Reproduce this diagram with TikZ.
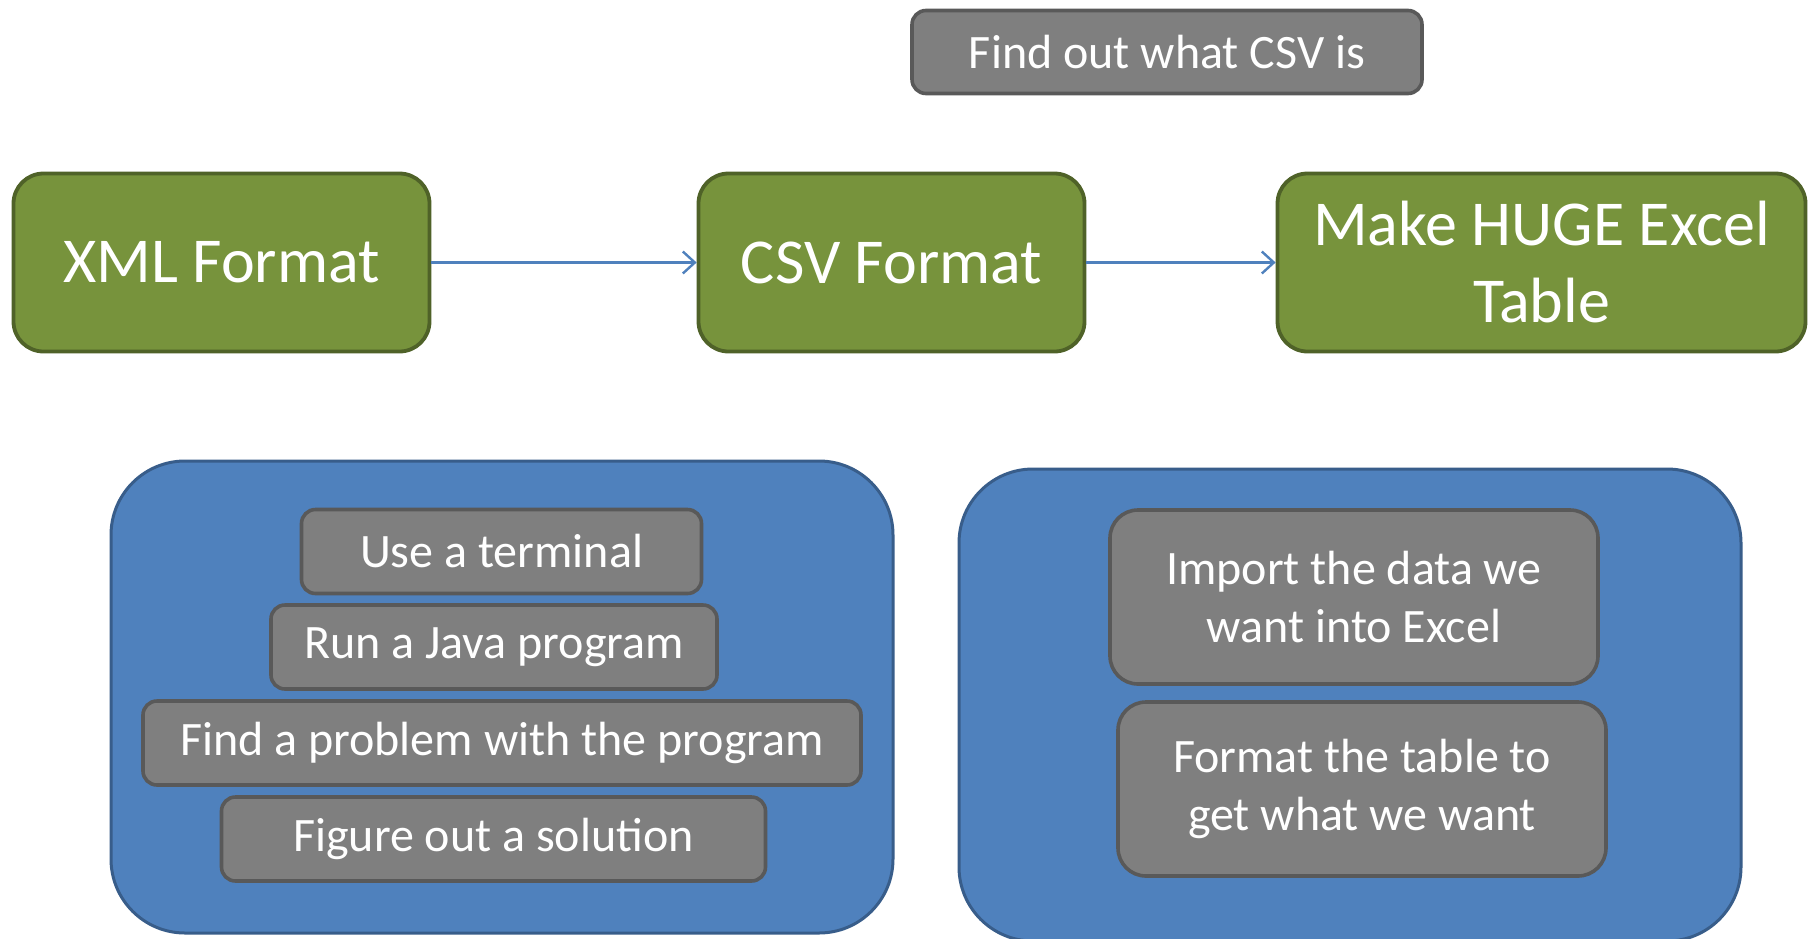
\documentclass[tikz,border=0pt]{standalone}
\usepackage{fontspec}
\setmainfont{Carlito}
\usetikzlibrary{arrows.meta}
\definecolor{gfill}{HTML}{77933C}
\definecolor{gline}{HTML}{4F6228}
\definecolor{bfill}{HTML}{4F81BD}
\definecolor{bline}{HTML}{385D8A}
\definecolor{kfill}{HTML}{7F7F7F}
\definecolor{kline}{HTML}{595959}
\tikzset{
  greenbox/.style={draw=gline, fill=gfill, line width=1.9pt, rounded corners=15pt,
    text=white, align=center, inner sep=0pt, font=\fontsize{32pt}{38.5pt}\selectfont},
  bluebox/.style={draw=bline, fill=bfill, line width=1.5pt, rounded corners=37pt, inner sep=0pt},
  graybox/.style={draw=kline, fill=kfill, line width=1.8pt, rounded corners=7pt,
    text=white, align=center, inner sep=0pt, font=\fontsize{24pt}{29pt}\selectfont},
  tallgray/.style={graybox, rounded corners=14pt},
  arr/.style={draw=bfill, line width=1.2pt, -{Straight Barb[length=6pt,width=11pt]}}
}
\begin{document}
\begin{tikzpicture}[x=0.5pt,y=-0.5pt]
\clip (0,0) rectangle (1810,938);
\fill[white] (0,0) rectangle (1810,938);
% top gray
\node[graybox, minimum width=255pt, minimum height=41.5pt] (find) at (1167,52) {Find out what CSV is};
% green row
\node[greenbox, minimum width=208pt, minimum height=89pt] (xml) at (221.5,262.5) {XML Format};
\node[greenbox, minimum width=193pt, minimum height=89pt] (csv) at (891.5,262.5) {CSV Format};
\node[greenbox, minimum width=264pt, minimum height=89pt] (huge) at (1541.5,262.5) {Make HUGE Excel\\Table};
\draw[arr] (xml.east) -- (csv.west);
\draw[arr] (csv.east) -- (huge.west);
% blue containers
\node[bluebox, minimum width=391pt, minimum height=236pt] (left) at (502,697) {};
\node[bluebox, minimum width=391pt, minimum height=236pt] (right) at (1350,705) {};
% left items
\node[graybox, minimum width=200pt, minimum height=42pt] (term) at (501.5,551.5) {Use a terminal};
\node[graybox, minimum width=223pt, minimum height=42pt] (java) at (494,647) {Run a Java program};
\node[graybox, minimum width=359pt, minimum height=42pt] (prob) at (502,743) {Find a problem with the program};
\node[graybox, minimum width=272pt, minimum height=42pt] (fig) at (493.5,839) {Figure out a solution};
% right items
\node[tallgray, minimum width=244pt, minimum height=87pt] (imp) at (1354,597) {Import the data we\\want into Excel};
\node[tallgray, minimum width=244pt, minimum height=87pt] (fmt) at (1362,789) {Format the table to\\get what we want};
\end{tikzpicture}
\end{document}
